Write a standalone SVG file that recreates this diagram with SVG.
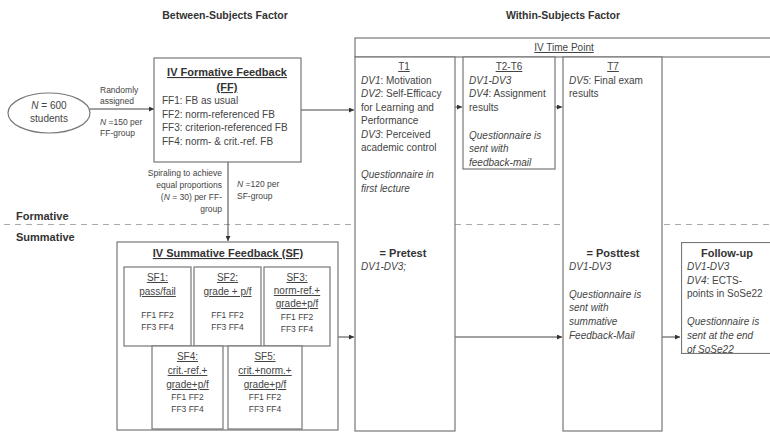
<svg xmlns="http://www.w3.org/2000/svg" width="770" height="433" viewBox="0 0 770 433">
<defs>
<marker id="ah" viewBox="0 0 6 6" refX="6" refY="3" markerWidth="5" markerHeight="5" orient="auto" markerUnits="userSpaceOnUse">
<path d="M0,0 L6,3 L0,6 z" fill="#333"/>
</marker>
</defs>
<style>
text{font-family:"Liberation Sans",Arial,sans-serif;fill:#444;font-size:10px}
.h{font-weight:bold;font-size:10.5px;fill:#333}
.b{font-weight:bold;font-size:11px;fill:#333}
.s{font-size:8.5px}
.t{font-size:8.5px}
.u{text-decoration:underline}
.i{font-style:italic}
.m{text-anchor:middle}
.e{text-anchor:end}
.box{fill:#fff;stroke:#777;stroke-width:1.2}
.ln{stroke:#444;stroke-width:1;fill:none;marker-end:url(#ah)}
</style>
<rect width="770" height="433" fill="#fff"/>
<text class="h m" x="225" y="19">Between-Subjects Factor</text>
<text class="h m" x="563" y="19">Within-Subjects Factor</text>
<line x1="4" y1="224.500" x2="770" y2="224.500" stroke="#aaa" stroke-width="1" stroke-dasharray="6,5"/>
<text class="b" x="16" y="220">Formative</text>
<text class="b" x="16" y="241">Summative</text>
<g id="connectors">
<line class="ln" x1="90" y1="109" x2="154" y2="109"/>
<line class="ln" x1="301" y1="110" x2="354" y2="110"/>
<line class="ln" x1="228" y1="162" x2="228" y2="241"/>
<line class="ln" x1="338" y1="337" x2="354" y2="337"/>
<line class="ln" x1="455" y1="107" x2="462" y2="107"/>
<line class="ln" x1="555" y1="107" x2="562" y2="107"/>
<line class="ln" x1="455" y1="337" x2="562" y2="337"/>
<line class="ln" x1="662" y1="337" x2="680" y2="337"/>
<text class="s" x="100" y="93">Randomly</text>
<text class="s" x="100" y="104">assigned</text>
<text class="s" x="100" y="125"><tspan class="i">N</tspan> =150 per</text>
<text class="s" x="100" y="136">FF-group</text>
<text class="s e" x="222" y="176">Spiraling to achieve</text>
<text class="s e" x="222" y="188">equal proportions</text>
<text class="s e" x="222" y="200">(<tspan class="i">N</tspan> = 30) per FF-</text>
<text class="s e" x="222" y="212">group</text>
<text class="s" x="237" y="187"><tspan class="i">N</tspan> =120 per</text>
<text class="s" x="237" y="199">SF-group</text>
</g>
<g id="students">
<ellipse cx="49" cy="113" rx="41" ry="20" fill="#fff" stroke="#777" stroke-width="1.2"/>
<text class="m" x="49" y="109"><tspan class="i">N</tspan> = 600</text>
<text class="m" x="49" y="122">students</text>
</g>
<g id="ff">
<rect class="box" x="154" y="58" width="147" height="104"/>
<text class="b m u" x="227" y="76">IV Formative Feedback</text>
<text class="b m u" x="227" y="91">(FF)</text>
<text x="162" y="104">FF1: FB as usual</text>
<text x="162" y="118">FF2: norm-referenced FB</text>
<text x="162" y="131">FF3: criterion-referenced FB</text>
<text x="162" y="145">FF4: norm- &amp; crit.-ref. FB</text>
</g>
<g id="sf">
<rect class="box" x="117" y="242" width="221" height="188"/>
<text class="b m u" x="228" y="257">IV Summative Feedback (SF)</text>
</g>
<g id="sf1">
<rect class="box" x="124" y="267" width="67" height="79"/>
<text class="m u" x="157.500" y="281">SF1:</text>
<text class="m u" x="157.500" y="295">pass/fail</text>
<text class="t m" x="157.500" y="318">FF1 FF2</text>
<text class="t m" x="157.500" y="330">FF3 FF4</text>
</g>
<g id="sf2">
<rect class="box" x="194" y="267" width="67" height="79"/>
<text class="m u" x="227.500" y="281">SF2:</text>
<text class="m u" x="227.500" y="295">grade + p/f</text>
<text class="t m" x="227.500" y="318">FF1 FF2</text>
<text class="t m" x="227.500" y="330">FF3 FF4</text>
</g>
<g id="sf3">
<rect class="box" x="264" y="267" width="66" height="79"/>
<text class="m u" x="297" y="281">SF3:</text>
<text class="m u" x="297" y="294">norm-ref.+</text>
<text class="m u" x="297" y="307">grade+p/f</text>
<text class="t m" x="297" y="320">FF1 FF2</text>
<text class="t m" x="297" y="332">FF3 FF4</text>
</g>
<g id="sf4">
<rect class="box" x="152" y="346" width="71" height="83"/>
<text class="m u" x="187.500" y="360">SF4:</text>
<text class="m u" x="187.500" y="374">crit.-ref.+</text>
<text class="m u" x="187.500" y="388">grade+p/f</text>
<text class="t m" x="187.500" y="400">FF1 FF2</text>
<text class="t m" x="187.500" y="412">FF3 FF4</text>
</g>
<g id="sf5">
<rect class="box" x="228" y="346" width="74" height="83"/>
<text class="m u" x="265" y="360">SF5:</text>
<text class="m u" x="265" y="374">crit.+norm.+</text>
<text class="m u" x="265" y="388">grade+p/f</text>
<text class="t m" x="265" y="400">FF1 FF2</text>
<text class="t m" x="265" y="412">FF3 FF4</text>
</g>
<g id="timepoint">
<rect class="box" x="355" y="38" width="420" height="19"/>
<text class="m u" x="564" y="51">IV Time Point</text>
</g>
<g id="t1">
<rect class="box" x="355" y="57" width="100" height="374"/>
<text class="m u" x="404" y="70">T1</text>
<text x="361" y="84"><tspan class="i">DV1</tspan>: Motivation</text>
<text x="361" y="97"><tspan class="i">DV2</tspan>: Self-Efficacy</text>
<text x="361" y="111">for Learning and</text>
<text x="361" y="124">Performance</text>
<text x="361" y="138"><tspan class="i">DV3</tspan>: Perceived</text>
<text x="361" y="151">academic control</text>
<text class="i" x="361" y="178">Questionnaire in</text>
<text class="i" x="361" y="192">first lecture</text>
<text class="b m" x="403" y="257">= Pretest</text>
<text class="i" x="361" y="270">DV1-DV3;</text>
</g>
<g id="t2t6">
<rect class="box" x="463" y="57" width="92" height="112"/>
<text class="m u" x="509" y="70">T2-T6</text>
<text class="i" x="469" y="84">DV1-DV3</text>
<text x="469" y="97"><tspan class="i">DV4</tspan>: Assignment</text>
<text x="469" y="111">results</text>
<text class="i" x="469" y="139">Questionnaire is</text>
<text class="i" x="469" y="152">sent with</text>
<text class="i" x="469" y="166">feedback-mail</text>
</g>
<g id="t7">
<rect class="box" x="563" y="57" width="99" height="374"/>
<text class="m u" x="613" y="70">T7</text>
<text x="569" y="84"><tspan class="i">DV5</tspan>: Final exam</text>
<text x="569" y="97">results</text>
<text class="b m" x="613" y="257">= Posttest</text>
<text class="i" x="569" y="270">DV1-DV3</text>
<text class="i" x="569" y="298">Questionnaire is</text>
<text class="i" x="569" y="311">sent with</text>
<text class="i" x="569" y="325">summative</text>
<text class="i" x="569" y="339">Feedback-Mail</text>
</g>
<g id="followup">
<svg x="681" y="242" width="89" height="112" overflow="hidden">
<rect class="box" x="0.500" y="0.500" width="100" height="111"/>
<text class="b m" x="46" y="15">Follow-up</text>
<text class="i" x="6" y="28">DV1-DV3</text>
<text x="6" y="42"><tspan class="i">DV4</tspan>: ECTS-</text>
<text x="6" y="55">points in SoSe22</text>
<text class="i" x="6" y="83">Questionnaire is</text>
<text class="i" x="6" y="97">sent at the end</text>
<text class="i" x="6" y="111">of SoSe22</text>
</svg>
</g>
</svg>
